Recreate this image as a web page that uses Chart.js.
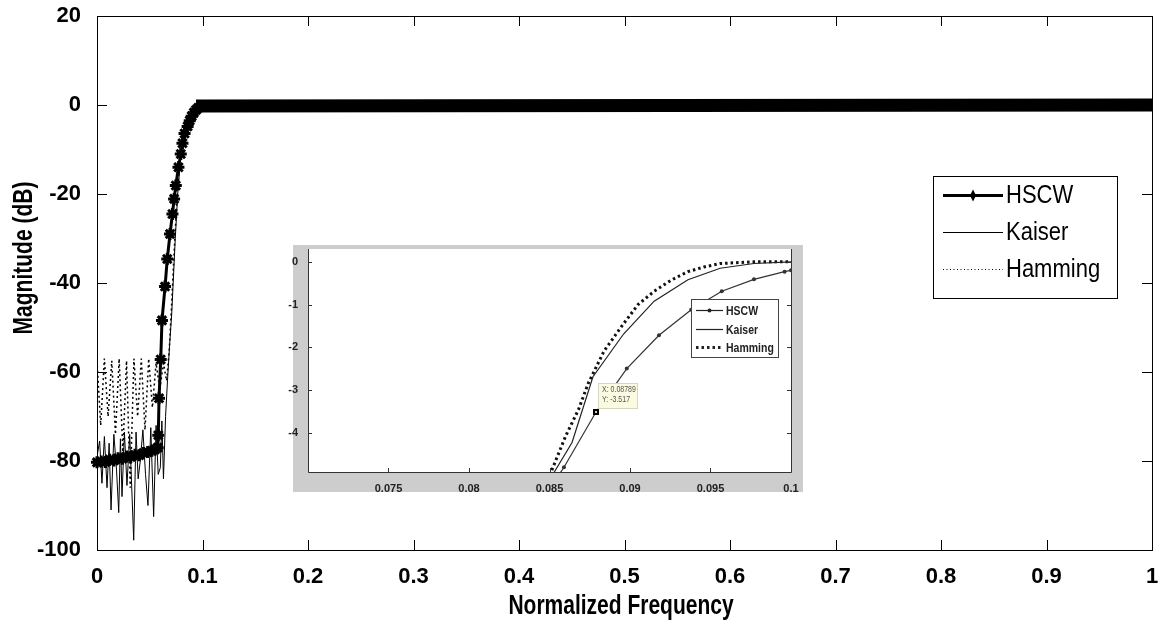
<!DOCTYPE html>
<html>
<head>
<meta charset="utf-8">
<script src="https://cdn.jsdelivr.net/npm/chart.js@4.4.0/dist/chart.umd.min.js"></script>
<style>
  html, body { margin: 0; padding: 0; background: #fff; }
  #wrap { position: relative; width: 1161px; height: 632px; }
  #mainChart { position: absolute; left: 0; top: 0; }
  #zoomChart { position: absolute; left: 280px; top: 245px; }
</style>
</head>
<body>
<div id="wrap">
  <canvas id="mainChart" width="1161" height="632"></canvas>
  <canvas id="zoomChart" width="523" height="247"></canvas>
</div>
<script>
// values (normalized frequency, magnitude in dB)
const seriesNames = ['HSCW', 'Kaiser', 'Hamming'];

const hscwFreq = [0, 0.004, 0.008, 0.012, 0.016, 0.020, 0.024, 0.028, 0.032, 0.036, 0.040, 0.044, 0.048, 0.052, 0.055, 0.0575,
  0.0581, 0.0588, 0.0604, 0.0616, 0.0645, 0.0666, 0.0692, 0.0715, 0.0731, 0.0747, 0.0772, 0.0794, 0.0810, 0.0830,
  0.0859, 0.08789, 0.0898, 0.0918, 0.0938, 0.0957, 0.0977, 0.0996, 0.1, 1];
const hscwMag = [-80.3, -80.1, -80.2, -79.7, -79.9, -79.4, -79.5, -79.0, -79.1, -78.6, -78.7, -78.2, -78.0, -77.7, -77.4, -77.0,
  -74.2, -65.9, -57.2, -48.4, -40.8, -34.6, -29.0, -24.5, -21.1, -18.1, -14.0, -11.0, -8.6, -6.4,
  -4.81, -3.517, -2.5, -1.72, -1.12, -0.69, -0.41, -0.23, -0.2, 0];

const kaiserFreq = [0, 0.0025, 0.0047, 0.007, 0.0095, 0.0115, 0.0133, 0.016, 0.0185, 0.0206, 0.0222, 0.0237, 0.026, 0.0284,
  0.031, 0.0348, 0.037, 0.039, 0.041, 0.0435, 0.046, 0.0483, 0.051, 0.0537, 0.056, 0.058, 0.060, 0.0615, 0.063, 0.065,
  0.0668, 0.0688, 0.0708, 0.0722, 0.0742, 0.0765, 0.079, 0.0815, 0.0835, 0.0853, 0.0864, 0.0877, 0.0896, 0.0915,
  0.0936, 0.0956, 0.0977, 0.1, 1];
const kaiserMag = [-79, -75.5, -85, -74.5, -86, -76, -91, -74, -82, -91.6, -75, -88, -73.5, -85.5,
  -74, -97.8, -73.5, -84, -80, -73, -83, -90, -72.5, -92.5, -72, -83, -81.5, -71, -84, -70,
  -62, -54, -47, -40, -30, -20, -12.5, -8.5, -6.3, -4.92, -4.23, -2.69, -1.69, -0.92,
  -0.42, -0.15, -0.04, 0, 0];

const hammingFreq = [0, 0.0035, 0.007, 0.0105, 0.014, 0.0175, 0.021, 0.0245, 0.028, 0.0315, 0.035, 0.0385, 0.042, 0.0455,
  0.049, 0.0525, 0.056, 0.0595, 0.063, 0.066, 0.0685, 0.0705, 0.072, 0.074, 0.0762, 0.0785, 0.081, 0.0832, 0.0851,
  0.086, 0.0868, 0.0874, 0.0884, 0.0895, 0.0905, 0.0915, 0.0926, 0.0936, 0.0946, 0.0956, 0.0977, 0.1, 1];
const hammingMag = [-57.5, -72, -57, -70, -57.5, -74, -57, -78, -57.5, -86, -57, -70, -57, -73,
  -57, -68, -58, -64, -58, -62, -55, -46, -38.5, -29, -20, -13, -8.6, -6.2, -4.92,
  -4.08, -3.46, -2.85, -2.08, -1.5, -1.0, -0.69, -0.42, -0.23, -0.12, -0.04, 0, 0, 0];

const xTicks = [0, 0.1, 0.2, 0.3, 0.4, 0.5, 0.6, 0.7, 0.8, 0.9, 1];
const xTickLabels = ['0', '0.1', '0.2', '0.3', '0.4', '0.5', '0.6', '0.7', '0.8', '0.9', '1'];
const yTicks = [-100, -80, -60, -40, -20, 0, 20];

const insetXTicks = [0.075, 0.08, 0.085, 0.09, 0.095, 0.1];
const insetXTickLabels = ['0.075', '0.08', '0.085', '0.09', '0.095', '0.1'];
const insetYTicks = [-4, -3, -2, -1, 0];

const datatip = { x: 0.08789, y: -3.517 };

const FONT = "'Liberation Sans', Arial, sans-serif";

function toPoints(xs, ys) {
  return xs.map((x, i) => ({ x: x, y: ys[i] }));
}

// the figure's lettering is tall and narrow, so stretch plugin text vertically
function tallText(ctx, text, x, y, font, sy, rotated) {
  ctx.save();
  ctx.translate(x, y);
  if (rotated) ctx.rotate(-Math.PI / 2);
  ctx.scale(1, sy);
  ctx.font = font;
  ctx.fillText(text, 0, 0);
  ctx.restore();
}

// box, inward ticks, axis titles and legend of the big plot
const mainDecor = {
  id: 'mainDecor',
  afterDraw(chart) {
    const ctx = chart.ctx;
    const a = chart.chartArea;
    const xs = chart.scales.x, ys = chart.scales.y;
    ctx.save();
    ctx.strokeStyle = '#000';
    ctx.lineWidth = 1;
    ctx.strokeRect(Math.round(a.left) + 0.5, Math.round(a.top) + 0.5, Math.round(a.width), Math.round(a.height));
    ctx.beginPath();
    xTicks.forEach(v => {
      const px = Math.round(xs.getPixelForValue(v)) + 0.5;
      ctx.moveTo(px, a.bottom); ctx.lineTo(px, a.bottom - 10);
      ctx.moveTo(px, a.top); ctx.lineTo(px, a.top + 10);
    });
    yTicks.forEach(v => {
      const py = Math.round(ys.getPixelForValue(v)) + 0.5;
      ctx.moveTo(a.left, py); ctx.lineTo(a.left + 10, py);
      ctx.moveTo(a.right, py); ctx.lineTo(a.right - 10, py);
    });
    ctx.stroke();

    // axis titles
    ctx.fillStyle = '#000';
    ctx.textAlign = 'center';
    ctx.textBaseline = 'middle';
    tallText(ctx, 'Normalized Frequency', 621, 607, 'bold 21px ' + FONT, 1.28, false);
    tallText(ctx, 'Magnitude (dB)', 25, 258, 'bold 21px ' + FONT, 1.28, true);

    // legend
    const lx = 933, ly = 176, lw = 184, lh = 122;
    ctx.fillStyle = '#fff';
    ctx.fillRect(lx, ly, lw, lh);
    ctx.strokeStyle = '#000';
    ctx.lineWidth = 1;
    ctx.strokeRect(lx + 0.5, ly + 0.5, lw, lh);
    const rows = [195, 232, 269];
    chart.data.datasets.forEach((ds, i) => {
      const ry = rows[i] + 0.5;
      ctx.beginPath();
      ctx.lineWidth = i === 0 ? 3 : 1;
      ctx.setLineDash(i === 2 ? [1, 2.5] : []);
      ctx.moveTo(943, ry); ctx.lineTo(1003, ry);
      ctx.stroke();
      ctx.setLineDash([]);
      if (i === 0) {
        ctx.beginPath();
        ctx.moveTo(973, ry - 6); ctx.lineTo(976, ry); ctx.lineTo(973, ry + 6); ctx.lineTo(970, ry);
        ctx.closePath();
        ctx.fillStyle = '#000';
        ctx.fill();
      }
      ctx.fillStyle = '#000';
      ctx.textAlign = 'left';
      tallText(ctx, ds.label, 1006, ry + 1, '22px ' + FONT, 1.15, false);
    });
    ctx.restore();
  }
};

const mainChart = new Chart(document.getElementById('mainChart'), {
  type: 'line',
  data: {
    datasets: [
      {
        label: seriesNames[0],
        data: toPoints(hscwFreq, hscwMag),
        borderColor: '#000',
        backgroundColor: '#000',
        borderWidth: 3,
        pointStyle: 'star',
        pointRadius: ctx => (ctx.raw && ctx.raw.x >= 0.1 ? 0 : 6),
        pointBorderWidth: 3,
        pointBorderColor: '#000',
        clip: false,
        segment: {
          borderWidth: ctx => (ctx.p0.parsed.x >= 0.0995 ? 13 : (ctx.p1.parsed.x <= 0.058 ? 8 : 3))
        }
      },
      {
        label: seriesNames[1],
        data: toPoints(kaiserFreq, kaiserMag),
        borderColor: '#000',
        borderWidth: 1,
        pointRadius: 0
      },
      {
        label: seriesNames[2],
        data: toPoints(hammingFreq, hammingMag),
        borderColor: '#000',
        borderWidth: 1.5,
        borderDash: [2, 3],
        pointRadius: 0
      }
    ]
  },
  options: {
    responsive: false,
    animation: false,
    layout: { padding: { left: 0, right: 9, top: 16, bottom: 0 } },
    scales: {
      x: {
        type: 'linear',
        min: 0,
        max: 1,
        afterBuildTicks: s => { s.ticks = xTicks.map(v => ({ value: v })); },
        afterFit: s => { s.height = 82; s.paddingLeft = 0; s.paddingRight = 0; },
        ticks: {
          callback: (v, i) => xTickLabels[i],
          font: { family: FONT, size: 22, weight: 'bold' },
          color: '#000',
          padding: 6,
          maxRotation: 0,
          autoSkip: false
        },
        grid: { display: false },
        border: { display: false }
      },
      y: {
        type: 'linear',
        min: -100,
        max: 20,
        afterBuildTicks: s => { s.ticks = yTicks.map(v => ({ value: v })); },
        afterFit: s => { s.width = 97; s.paddingTop = 0; s.paddingBottom = 0; },
        ticks: {
          font: { family: FONT, size: 22, weight: 'bold' },
          color: '#000',
          padding: 8
        },
        grid: { display: false },
        border: { display: false }
      }
    },
    plugins: { legend: { display: false }, tooltip: { enabled: false } }
  },
  plugins: [mainDecor]
});

// zoomed view of the transition band
const insetDecor = {
  id: 'insetDecor',
  beforeDraw(chart) {
    const ctx = chart.ctx;
    const a = chart.chartArea;
    ctx.save();
    ctx.fillStyle = '#cdcdcd';
    ctx.fillRect(13, 0, chart.width - 13, chart.height);
    ctx.fillStyle = '#fff';
    ctx.fillRect(a.left, a.top, a.width, a.height);
    ctx.restore();
  },
  afterDraw(chart) {
    const ctx = chart.ctx;
    const a = chart.chartArea;
    const xs = chart.scales.x, ys = chart.scales.y;
    ctx.save();
    ctx.strokeStyle = '#333';
    ctx.lineWidth = 1;
    ctx.beginPath();
    ctx.moveTo(Math.round(a.left) + 0.5, a.top);
    ctx.lineTo(Math.round(a.left) + 0.5, Math.round(a.bottom) + 0.5);
    ctx.lineTo(Math.round(a.right) + 0.5, Math.round(a.bottom) + 0.5);
    ctx.lineTo(Math.round(a.right) + 0.5, a.top);
    insetYTicks.forEach(v => {
      const py = Math.round(ys.getPixelForValue(v)) + 0.5;
      ctx.moveTo(a.left, py); ctx.lineTo(a.left + 4, py);
      ctx.moveTo(a.right, py); ctx.lineTo(a.right - 4, py);
    });
    insetXTicks.forEach(v => {
      const px = Math.round(xs.getPixelForValue(v)) + 0.5;
      ctx.moveTo(px, a.bottom); ctx.lineTo(px, a.bottom - 4);
    });
    ctx.stroke();

    // data tip
    const px = xs.getPixelForValue(datatip.x);
    const py = ys.getPixelForValue(datatip.y);
    ctx.fillStyle = '#000';
    ctx.fillRect(Math.round(px) - 3, Math.round(py) - 3, 6, 6);
    ctx.fillStyle = '#d8d8a0';
    ctx.fillRect(Math.round(px) - 1, Math.round(py) - 1, 2, 2);
    const bx = Math.round(px) + 2, by = Math.round(py) - 29;
    ctx.fillStyle = '#fbfbe2';
    ctx.fillRect(bx, by, 39, 25);
    ctx.strokeStyle = '#d6d6c0';
    ctx.strokeRect(bx + 0.5, by + 0.5, 39, 25);
    ctx.fillStyle = '#555';
    ctx.textAlign = 'left';
    ctx.textBaseline = 'middle';
    tallText(ctx, 'X: ' + datatip.x.toFixed(5), bx + 4, by + 7, '7px ' + FONT, 1.2, false);
    tallText(ctx, 'Y: ' + datatip.y.toFixed(3), bx + 4, by + 17, '7px ' + FONT, 1.2, false);

    // legend
    const lx = 411, ly = 54, lw = 87, lh = 58;
    ctx.fillStyle = '#fff';
    ctx.fillRect(lx, ly, lw, lh);
    ctx.strokeStyle = '#444';
    ctx.lineWidth = 1;
    ctx.strokeRect(lx + 0.5, ly + 0.5, lw, lh);
    const rows = [65, 84, 102];
    chart.data.datasets.forEach((ds, i) => {
      const ry = rows[i] + 0.5;
      ctx.beginPath();
      ctx.strokeStyle = '#222';
      ctx.lineWidth = i === 2 ? 3 : 1.2;
      ctx.setLineDash(i === 2 ? [2.5, 3] : []);
      ctx.moveTo(416, ry); ctx.lineTo(443, ry);
      ctx.stroke();
      ctx.setLineDash([]);
      if (i === 0) {
        ctx.beginPath();
        ctx.arc(429.5, ry, 2, 0, Math.PI * 2);
        ctx.fillStyle = '#222';
        ctx.fill();
      }
      ctx.fillStyle = '#222';
      tallText(ctx, ds.label, 446, ry + 1, 'bold 10.5px ' + FONT, 1.2, false);
    });
    ctx.restore();
  }
};

const zoomChart = new Chart(document.getElementById('zoomChart'), {
  type: 'line',
  data: {
    datasets: [
      {
        label: seriesNames[0],
        data: toPoints(hscwFreq, hscwMag),
        borderColor: '#333',
        backgroundColor: '#333',
        borderWidth: 1.2,
        pointStyle: 'circle',
        pointRadius: 2,
        pointBorderWidth: 0
      },
      {
        label: seriesNames[1],
        data: toPoints(kaiserFreq, kaiserMag),
        borderColor: '#222',
        borderWidth: 1.2,
        pointRadius: 0
      },
      {
        label: seriesNames[2],
        data: toPoints(hammingFreq, hammingMag),
        borderColor: '#111',
        borderWidth: 3,
        borderDash: [2.5, 3],
        pointRadius: 0
      }
    ]
  },
  options: {
    responsive: false,
    animation: false,
    layout: { padding: { left: 0, right: 12, top: 0, bottom: 0 } },
    scales: {
      x: {
        type: 'linear',
        min: 0.07,
        max: 0.1,
        afterBuildTicks: s => { s.ticks = insetXTicks.map(v => ({ value: v })); },
        afterFit: s => { s.height = 20; s.paddingLeft = 0; s.paddingRight = 0; },
        ticks: {
          callback: (v, i) => insetXTickLabels[i],
          font: { family: FONT, size: 11, weight: 'bold' },
          color: '#222',
          padding: 2,
          maxRotation: 0,
          autoSkip: false
        },
        grid: { display: false },
        border: { display: false }
      },
      y: {
        type: 'linear',
        min: -4.92,
        max: 0.3,
        afterBuildTicks: s => { s.ticks = insetYTicks.map(v => ({ value: v })); },
        afterFit: s => { s.width = 28; s.paddingTop = 0; s.paddingBottom = 0; },
        ticks: {
          font: { family: FONT, size: 11, weight: 'bold' },
          color: '#222',
          padding: 2
        },
        grid: { display: false },
        border: { display: false }
      }
    },
    plugins: { legend: { display: false }, tooltip: { enabled: false } }
  },
  plugins: [insetDecor]
});
</script>
</body>
</html>
